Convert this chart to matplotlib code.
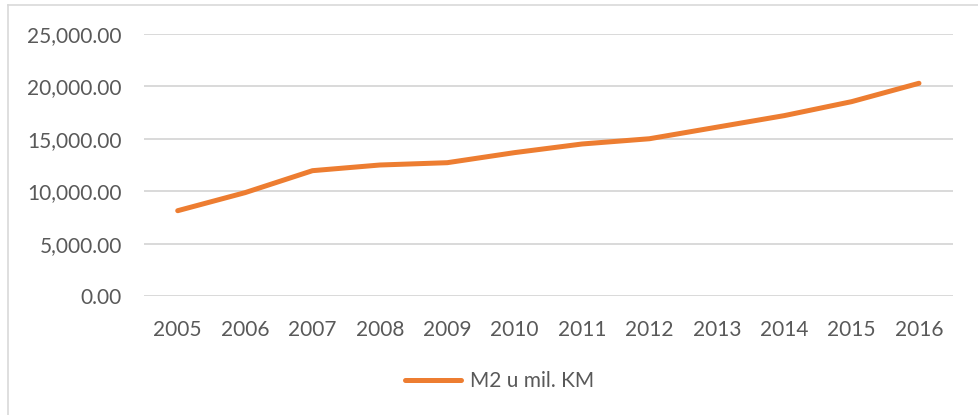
import matplotlib
matplotlib.use("Agg")
import matplotlib.pyplot as plt
from matplotlib.lines import Line2D
from matplotlib.ticker import FuncFormatter

years = ["2005", "2006", "2007", "2008", "2009", "2010",
         "2011", "2012", "2013", "2014", "2015", "2016"]
m2 = [8150, 9870, 11960, 12500, 12720, 13680,
      14500, 15000, 16100, 17200, 18530, 20280]
series_name = "M2 u mil. KM"
y_ticks = [0, 5000, 10000, 15000, 20000, 25000]

plt.rcParams['font.family'] = ['Lato', 'DejaVu Sans']
text_color = "#595959"
orange = "#ED7D31"
grid_color = "#D9D9D9"

fig = plt.figure(figsize=(9.79, 4.15), dpi=100)
ax = fig.add_axes([0.1471, 0.286, 0.826, 0.6328])

x = list(range(len(years)))
ax.plot(x, m2, color=orange, linewidth=3.6, solid_capstyle='round',
        solid_joinstyle='round', label=series_name)

ax.set_xlim(-0.5, len(years) - 0.5)
ax.set_ylim(0, 25000)
ax.set_yticks(y_ticks)
ax.yaxis.set_major_formatter(FuncFormatter(lambda v, p: f"{v:,.2f}"))
ax.set_xticks(x)
ax.set_xticklabels(years)

ax.grid(axis='y', color=grid_color, linewidth=1.4)
ax.set_axisbelow(True)
for s in ax.spines.values():
    s.set_visible(False)
ax.tick_params(axis='both', length=0, labelsize=15, colors=text_color)
ax.tick_params(axis='y', pad=16)
ax.tick_params(axis='x', pad=17)

fig.legend(loc='center', bbox_to_anchor=(0.51, 1 - 381 / 415), frameon=False,
           fontsize=15, labelcolor=text_color, handlelength=2.7,
           handletextpad=0.4)

# chart frame (top and left edges visible)
fig.add_artist(Line2D([8 / 979, 8 / 979], [0, 1 - 5 / 415],
                      transform=fig.transFigure, color=grid_color, linewidth=1.2))
fig.add_artist(Line2D([8 / 979, 1], [1 - 5 / 415, 1 - 5 / 415],
                      transform=fig.transFigure, color=grid_color, linewidth=1.2))

fig.savefig("out.png", dpi=100)
